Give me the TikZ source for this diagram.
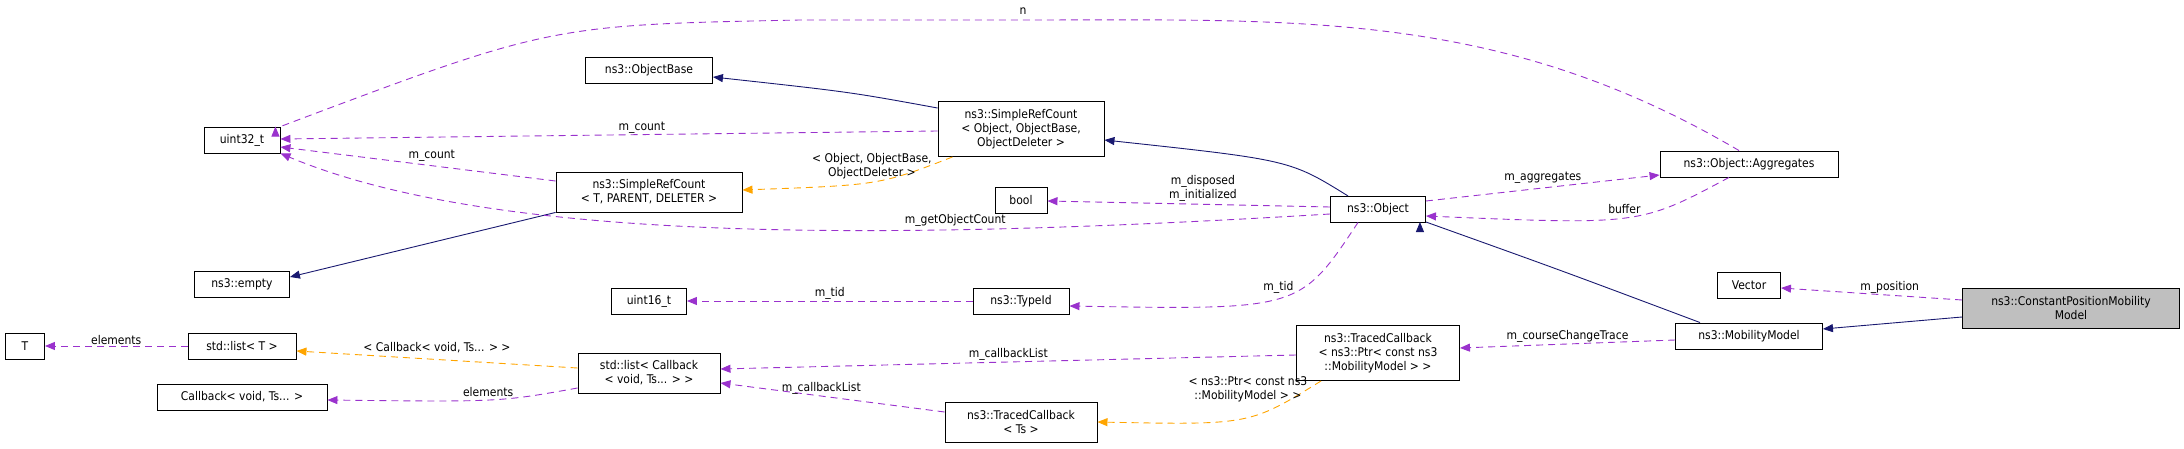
\documentclass[tikz,border=0pt]{standalone}
\usepackage{fontspec}
\setmainfont{DejaVu Sans Condensed}
\usepackage{tikz}
\usetikzlibrary{arrows.meta,positioning}
\definecolor{uses}{RGB}{154, 50, 205}
\definecolor{base}{RGB}{25, 25, 112}
\definecolor{tmpl}{RGB}{255, 165, 0}
\tikzset{
    cls/.style={rectangle, draw=black, fill=white, line width=0.9pt, align=center, inner sep=2pt, minimum height=26pt, font=\fontsize{12}{14}\selectfont},
    member/.style={draw=uses, line width=0.9pt, dash pattern=on 7pt off 5pt, -{Triangle[length=10pt,width=8pt]}, uses!100},
    inherit/.style={draw=base, line width=0.9pt, -{Triangle[length=10pt,width=8pt]}, base},
    templ/.style={draw=tmpl, line width=0.9pt, dash pattern=on 7pt off 5pt, -{Triangle[length=10pt,width=8pt]}, tmpl},
    lbl/.style={font=\fontsize{12}{14}\selectfont, text=black, align=center, inner sep=1pt},
}

\begin{document}
\begin{tikzpicture}[x=1pt, y=-1pt]
\useasboundingbox (0,0) rectangle (2184,449);

% classes
\node[cls, minimum width=76pt] (u32) at (242,140) {uint32\_t};
\node[cls, minimum width=127pt] (objbase) at (649,70) {ns3::ObjectBase};
\node[cls, minimum width=166pt, minimum height=55pt] (srcobj) at (1021,129) {ns3::SimpleRefCount\\< Object, ObjectBase,\\ObjectDeleter >};
\node[cls, minimum width=186pt, minimum height=40pt] (srct) at (649,192) {ns3::SimpleRefCount\\< T, PARENT, DELETER >};
\node[cls, minimum width=95pt] (empty) at (242,284) {ns3::empty};
\node[cls, minimum width=52pt] (bool) at (1021,200) {bool};
\node[cls, minimum width=95pt] (obj) at (1378,209) {ns3::Object};
\node[cls, minimum width=178pt] (agg) at (1749,164) {ns3::Object::Aggregates};
\node[cls, minimum width=75pt] (u16) at (649,301) {uint16\_t};
\node[cls, minimum width=96pt] (tid) at (1021,301) {ns3::TypeId};
\node[cls, minimum width=39pt] (t) at (25,346) {T};
\node[cls, minimum width=108pt] (listt) at (242,346) {std::list< T >};
\node[cls, minimum width=170pt] (cb) at (242,397) {Callback< void, Ts... >};
\node[cls, minimum width=142pt, minimum height=40pt] (listcb) at (649,373) {std::list< Callback\\< void, Ts... > >};
\node[cls, minimum width=163pt, minimum height=55pt] (tcmm) at (1378,353) {ns3::TracedCallback\\< ns3::Ptr< const ns3\\::MobilityModel > >};
\node[cls, minimum width=152pt, minimum height=40pt] (tcts) at (1021,422) {ns3::TracedCallback\\< Ts >};
\node[cls, minimum width=63pt] (vec) at (1749,285) {Vector};
\node[cls, minimum width=147pt] (mm) at (1749,336) {ns3::MobilityModel};
\node[cls, minimum width=217pt, minimum height=40pt, fill=black!25] (cpmm) at (2071,308) {ns3::ConstantPositionMobility\\Model};

% inheritance
\draw[inherit] (srcobj.west |- 0,108) .. controls (850,92) .. (objbase.east |- 0,77);
\draw[inherit] (srct.south west) -- (empty.east |- 0,277);
\draw[inherit] (obj.north west |- 0,196) ++(18,0) .. controls (1290,160) .. (srcobj.east |- 0,140);
\draw[inherit] (mm.north west) ++(25,0) .. controls (1560,270) .. (obj.south east |- 0,222) ++(-6,0);
\draw[inherit] (cpmm.west |- 0,317) -- (mm.east |- 0,329);

% template instances
\draw[templ] (srcobj.south west) ++(15,0) .. controls (880,185) .. (srct.east |- 0,190) node[lbl, pos=0.5, above=2pt] {< Object, ObjectBase,\\ObjectDeleter >};
\draw[templ] (tcmm.south west) ++(25,0) .. controls (1250,425) .. (tcts.east |- 0,422) node[lbl, pos=0.45, above=14pt] {< ns3::Ptr< const ns3\\::MobilityModel > >};
\draw[templ] (listcb.west |- 0,368) -- (listt.east |- 0,351) node[lbl, midway, above=5pt] {< Callback< void, Ts... > >};

% members
\draw[member] (agg.north) ++(-10,0) .. controls (1500,10) and (1300,20) .. (1023,20) -- (800,20) .. controls (550,25) .. (u32.north east) ++(-5,0);
\node[lbl] (nlbl) at (1023,11) {n};
\draw[member] (srcobj.west |- 0,131) -- (u32.east |- 0,139) node[lbl, pos=0.45, above] {m\_count};
\draw[member] (srct.west |- 0,181) -- (u32.east |- 0,147) node[lbl, pos=0.45, above=3pt] {m\_count};
\draw[member] (obj.west |- 0,214) .. controls (900,240) and (500,245) .. (u32.south east) node[lbl, pos=0.3, above=2pt] {m\_getObjectCount};
\draw[member] (obj.west |- 0,207) -- (bool.east |- 0,201) node[lbl, pos=0.45, above=2pt] {m\_disposed\\m\_initialized};
\draw[member] (obj.east |- 0,201) -- (agg.west |- 0,175) node[lbl, midway, above=3pt] {m\_aggregates};
\draw[member] (agg.south) ++(-20,0) .. controls (1640,225) .. (obj.east |- 0,216) node[lbl, pos=0.5, above=3pt] {buffer};
\draw[member] (obj.south) ++(-20,0) .. controls (1300,310) .. (tid.east |- 0,306) node[lbl, pos=0.5, above=4pt] {m\_tid};
\draw[member] (tid.west) -- (u16.east) node[lbl, midway, above] {m\_tid};
\draw[member] (cpmm.west |- 0,300) -- (vec.east |- 0,288) node[lbl, pos=0.4, above] {m\_position};
\draw[member] (mm.west |- 0,340) -- (tcmm.east |- 0,348) node[lbl, midway, above] {m\_courseChangeTrace};
\draw[member] (tcmm.west |- 0,355) -- (listcb.east |- 0,369) node[lbl, midway, above] {m\_callbackList};
\draw[member] (tcts.west |- 0,412) -- (listcb.east |- 0,383) node[lbl, pos=0.55, above] {m\_callbackList};
\draw[member] (listcb.west |- 0,388) .. controls (500,402) .. (cb.east |- 0,400) node[lbl, pos=0.5, above=2pt] {elements};
\draw[member] (listt.west) -- (t.east) node[lbl, midway, above] {elements};
\end{tikzpicture}
\end{document}
